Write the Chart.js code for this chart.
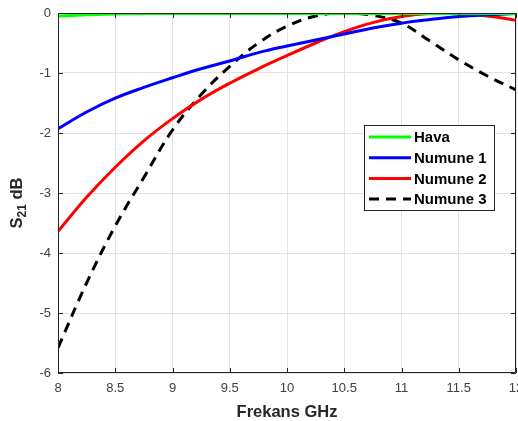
<!DOCTYPE html>
<html>
<head>
<meta charset="utf-8">
<script src="https://cdn.jsdelivr.net/npm/chart.js@4/dist/chart.umd.min.js"></script>
<style>
  html, body { margin: 0; padding: 0; background: #fff; overflow: hidden; }
  canvas { display: block; }
</style>
</head>
<body>
<canvas id="s21_chart" width="518" height="421"></canvas>
<script>
// frequency points (GHz)
var freq = [8, 8.25, 8.5, 8.75, 9, 9.25, 9.5, 9.75, 10, 10.25, 10.5, 10.75, 11, 11.25, 11.5, 11.75, 12];

// S21 in dB
var hava    = [-0.05, -0.03, -0.015, -0.01, -0.01, -0.01, -0.01, -0.01, -0.01, -0.01, -0.01, -0.01, -0.01, -0.01, -0.01, -0.01, -0.01];
var numune1 = [-1.93, -1.65, -1.42, -1.24, -1.08, -0.93, -0.80, -0.66, -0.55, -0.45, -0.35, -0.25, -0.17, -0.11, -0.06, -0.03, -0.01];
var numune2 = [-3.64, -3.07, -2.57, -2.13, -1.76, -1.44, -1.17, -0.93, -0.71, -0.50, -0.31, -0.16, -0.06, -0.01, -0.01, -0.05, -0.12];
var numune3 = [-5.58, -4.50, -3.55, -2.74, -1.95, -1.36, -0.89, -0.50, -0.22, -0.05, 0.00, -0.04, -0.17, -0.47, -0.78, -1.05, -1.28];

var seriesNames = ['Hava', 'Numune 1', 'Numune 2', 'Numune 3'];
var xTicks = [8, 8.5, 9, 9.5, 10, 10.5, 11, 11.5, 12];
var yTicks = [-6, -5, -4, -3, -2, -1, 0];

function pts(ys){
    return freq.map(function(f, i){ return {x: f, y: ys[i]}; });
}

var axisColor = '#262626';
var tickColor = '#404040';

// box, inward ticks, titles and legend, drawn like the original figure
var matlabLook = {
    id: 'matlabLook',
    afterDraw: function(chart){
        var ctx = chart.ctx, a = chart.chartArea;
        var xs = chart.scales.x, ys = chart.scales.y;
        ctx.save();
        ctx.strokeStyle = axisColor;
        ctx.lineWidth = 1;
        ctx.beginPath();
        ctx.rect(a.left + 0.5, a.top + 0.5, a.right - a.left - 1, a.bottom - a.top - 1);
        ctx.stroke();
        ctx.beginPath();
        xTicks.forEach(function(v){
            var px = Math.round(xs.getPixelForValue(v)) + 0.5;
            ctx.moveTo(px, a.bottom); ctx.lineTo(px, a.bottom - 5);
            ctx.moveTo(px, a.top); ctx.lineTo(px, a.top + 5);
        });
        yTicks.forEach(function(v){
            var py = Math.round(ys.getPixelForValue(v)) + 0.5;
            ctx.moveTo(a.left, py); ctx.lineTo(a.left + 5, py);
            ctx.moveTo(a.right, py); ctx.lineTo(a.right - 5, py);
        });
        ctx.stroke();

        // x title
        ctx.fillStyle = axisColor;
        ctx.font = 'bold 16.5px "Liberation Sans", Arial, sans-serif';
        ctx.textAlign = 'center';
        ctx.textBaseline = 'alphabetic';
        ctx.fillText('Frekans GHz', (a.left + a.right) / 2, 417);

        // y title S21 dB with subscript
        ctx.translate(22, 203);
        ctx.rotate(-Math.PI / 2);
        ctx.textAlign = 'left';
        ctx.font = 'bold 16.5px "Liberation Sans", Arial, sans-serif';
        var w1 = ctx.measureText('S').width;
        ctx.font = 'bold 12px "Liberation Sans", Arial, sans-serif';
        var w2 = ctx.measureText('21').width;
        ctx.font = 'bold 16.5px "Liberation Sans", Arial, sans-serif';
        var w3 = ctx.measureText(' dB').width;
        var x0 = -(w1 + w2 + w3) / 2;
        ctx.fillText('S', x0, 0);
        ctx.font = 'bold 12px "Liberation Sans", Arial, sans-serif';
        ctx.fillText('21', x0 + w1, 4);
        ctx.font = 'bold 16.5px "Liberation Sans", Arial, sans-serif';
        ctx.fillText(' dB', x0 + w1 + w2, 0);
        ctx.restore();

        // legend box
        ctx.save();
        var lx = 364, ly = 125, lw = 130, lh = 85;
        ctx.fillStyle = '#fff';
        ctx.fillRect(lx, ly, lw, lh);
        ctx.strokeStyle = axisColor;
        ctx.lineWidth = 1;
        ctx.strokeRect(lx + 0.5, ly + 0.5, lw, lh);
        ctx.font = 'bold 15px "Liberation Sans", Arial, sans-serif';
        ctx.textAlign = 'left';
        ctx.textBaseline = 'middle';
        chart.data.datasets.forEach(function(ds, i){
            var cy = 137 + i * 20.7;
            ctx.strokeStyle = ds.borderColor;
            ctx.lineWidth = 3;
            ctx.setLineDash(ds.borderDash || []);
            ctx.beginPath();
            ctx.moveTo(369, cy); ctx.lineTo(411, cy);
            ctx.stroke();
            ctx.setLineDash([]);
            ctx.fillStyle = '#000';
            ctx.fillText(ds.label, 414, cy + 1);
        });
        ctx.restore();
    }
};

var ctx = document.getElementById('s21_chart').getContext('2d');
var myChart = new Chart(ctx, {
    type: 'line',
    data: {
        datasets: [{
            label: seriesNames[0],
            data: pts(hava),
            borderColor: '#00ff00',
            borderWidth: 3
        }, {
            label: seriesNames[1],
            data: pts(numune1),
            borderColor: '#0000ff',
            borderWidth: 3
        }, {
            label: seriesNames[2],
            data: pts(numune2),
            borderColor: '#ff0000',
            borderWidth: 3
        }, {
            label: seriesNames[3],
            data: pts(numune3),
            borderColor: '#000000',
            borderWidth: 3,
            borderDash: [10, 7]
        }]
    },
    options: {
        responsive: false,
        animation: false,
        events: [],
        devicePixelRatio: 1,
        layout: { autoPadding: false, padding: { top: 13, right: 2, left: 0, bottom: 0 } },
        elements: {
            point: { radius: 0 },
            line: { tension: 0.4, fill: false }
        },
        plugins: {
            legend: { display: false },
            tooltip: { enabled: false }
        },
        scales: {
            x: {
                type: 'linear',
                min: 8,
                max: 12,
                afterBuildTicks: function(s){ s.ticks = xTicks.map(function(v){ return {value: v}; }); },
                afterFit: function(s){
                    s.height = 48;
                    s.paddingLeft = 0; s.paddingRight = 0;
                },
                grid: { color: '#e3e3e3', drawTicks: false },
                border: { display: false },
                ticks: {
                    padding: 8,
                    maxRotation: 0,
                    color: tickColor,
                    font: { family: '"Liberation Sans", Arial, sans-serif', size: 13 },
                    callback: function(v){ return String(v); }
                }
            },
            y: {
                min: -6,
                max: 0,
                afterBuildTicks: function(s){ s.ticks = yTicks.map(function(v){ return {value: v}; }); },
                afterFit: function(s){
                    s.width = 58;
                    s.paddingTop = 0; s.paddingBottom = 0;
                },
                grid: { color: '#e3e3e3', drawTicks: false },
                border: { display: false },
                ticks: {
                    padding: 7,
                    color: tickColor,
                    font: { family: '"Liberation Sans", Arial, sans-serif', size: 13 },
                    callback: function(v){ return String(v); }
                }
            }
        }
    },
    plugins: [matlabLook]
});
</script>
</body>
</html>
